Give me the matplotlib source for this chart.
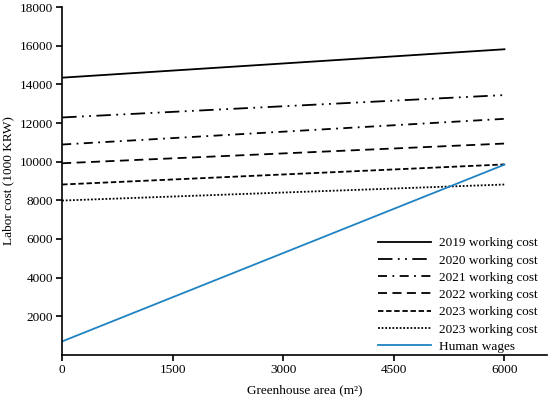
import matplotlib
matplotlib.use('Agg')
import matplotlib.pyplot as plt
import numpy as np

plt.rcParams['font.family'] = ['Liberation Serif', 'DejaVu Serif']

area = [0, 6000]
cost_2019 = [14350, 15820]
cost_2020 = [12290, 13450]
cost_2021 = [10890, 12220]
cost_2022 = [9920, 10940]
cost_2023a = [8820, 9860]
cost_2023b = [7990, 8820]
human_wages = [700, 9850]

labels = ['2019 working cost', '2020 working cost', '2021 working cost',
          '2022 working cost', '2023 working cost', '2023 working cost',
          'Human wages']

fig = plt.figure(figsize=(5.5, 3.97), dpi=100)
ax = fig.add_axes([0.113, 0.106, 0.882, 0.876])

ax.plot(area, cost_2019, color='black', lw=1.3, linestyle='-', label=labels[0])
ax.plot(area, cost_2020, color='black', lw=1.3, linestyle=(0, (8, 3, 1, 3, 1, 3)), label=labels[1])
ax.plot(area, cost_2021, color='black', lw=1.3, linestyle=(0, (5, 3, 1, 3)), label=labels[2])
ax.plot(area, cost_2022, color='black', lw=1.3, linestyle=(0, (5, 3)), label=labels[3])
ax.plot(area, cost_2023a, color='black', lw=1.3, linestyle=(0, (3, 1.5)), label=labels[4])
ax.plot(area, cost_2023b, color='black', lw=1.3, linestyle=(0, (1, 1)), label=labels[5])
ax.plot(area, human_wages, color='#1f83c1', lw=1.3, linestyle='-', label=labels[6])

ax.set_xlim(0, 6580)
ax.set_ylim(0, 18000)
ax.set_xticks([0, 1500, 3000, 4500, 6000])
ax.set_yticks([2000, 4000, 6000, 8000, 10000, 12000, 14000, 16000, 18000])
ax.spines['top'].set_visible(False)
ax.spines['right'].set_visible(False)
ax.spines['left'].set_linewidth(1.2)
ax.spines['bottom'].set_linewidth(1.2)
ax.tick_params(labelsize=9.5, width=1.2, length=4, colors='black', pad=2.5)
ax.set_xlabel('Greenhouse area (m²)', fontsize=9.5, labelpad=6)
ax.set_ylabel('Labor cost (1000 KRW)', fontsize=9.5)

ax.legend(loc='lower right', frameon=False, fontsize=9.5, handlelength=4.0,
          handletextpad=0.6, labelspacing=0.38, bbox_to_anchor=(1.004, -0.028))

fig.savefig('out.png', dpi=100)
